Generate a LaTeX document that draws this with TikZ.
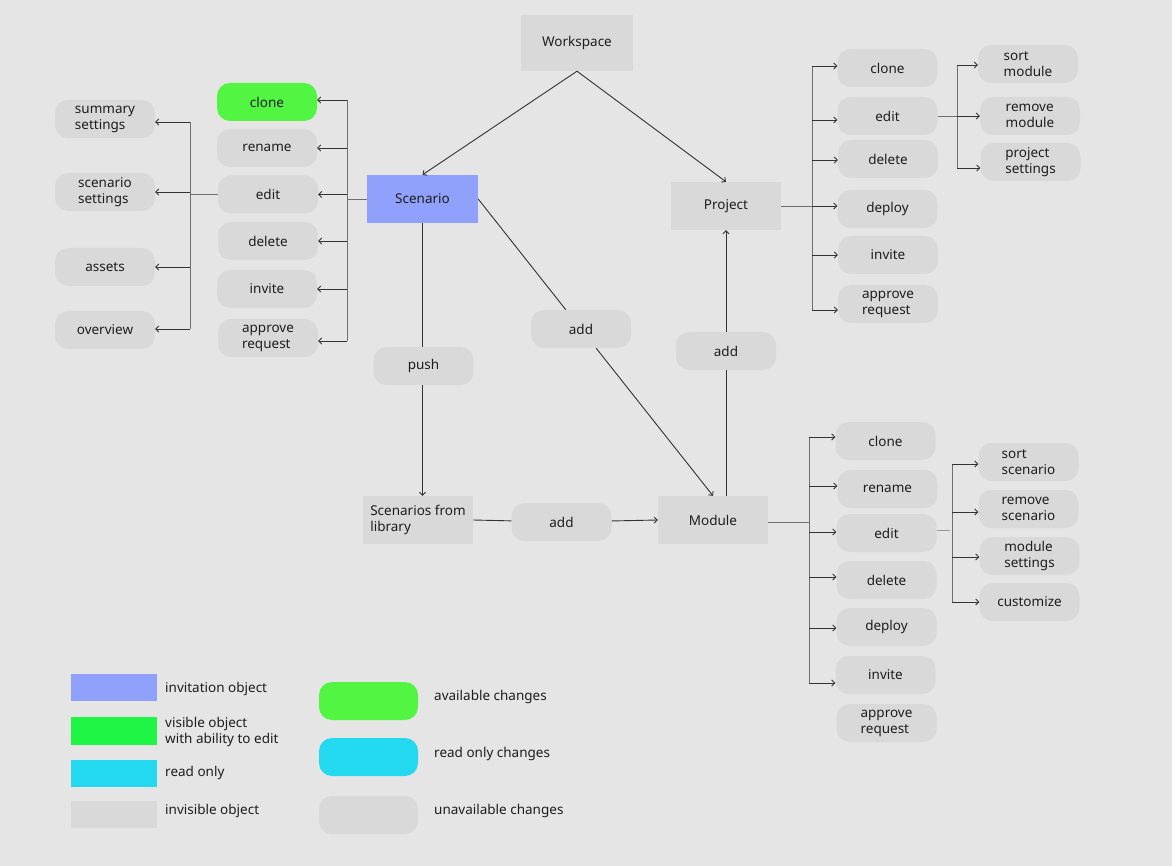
\documentclass[tikz,border=0pt]{standalone}
\usepackage{fontspec}
\setmainfont{Noto Sans}
\usetikzlibrary{arrows.meta}
\definecolor{bg}{HTML}{E5E5E5}
\definecolor{fillgray}{HTML}{D9D9D9}
\definecolor{invblue}{RGB}{143,161,250}
\definecolor{visgreen}{RGB}{30,245,68}
\definecolor{availgreen}{RGB}{82,245,66}
\definecolor{rocyan}{RGB}{34,217,240}
\definecolor{linec}{HTML}{333333}
\definecolor{busc}{HTML}{6E6E6E}
\definecolor{txt}{HTML}{1E1E1E}
\begin{document}
\begin{tikzpicture}[x=1pt,y=-1pt,
  every node/.style={font=\fontsize{13.5}{16}\selectfont, text=txt, inner sep=0pt},
  pill/.style={fill=fillgray, rounded corners=13pt, minimum width=100pt, minimum height=38pt, align=left},
  box/.style={fill=fillgray, minimum width=111pt, minimum height=48pt},
  swatch/.style={minimum width=86pt, minimum height=27pt},
  legtext/.style={anchor=west, align=left},
  conn/.style={draw=linec, line width=0.9pt},
  arr/.style={conn, -{Straight Barb[length=3pt,width=6pt]}},
  bus/.style={draw=busc, line width=0.9pt},
]
\fill[bg] (0,0) rectangle (1172,866);
\useasboundingbox (0,0) rectangle (1172,866);

% main objects
\node[box, minimum width=112pt, minimum height=56pt] (ws) at (577,43) {Workspace};
\node[box, fill=invblue] (scen) at (422.5,199) {Scenario};
\node[box, minimum width=110pt] (proj) at (726,206) {Project};
\node[box, minimum width=110pt, align=left] (lib) at (418,520) {Scenarios from\\library};
\node[box, minimum width=110pt] (mod) at (713,520) {Module};

% relation labels
\node[pill] (push) at (423.5,366) {push};
\node[pill] (addA) at (581,329) {add};
\node[pill] (addB) at (726,351) {add};
\node[pill] (addC) at (561.5,522) {add};

% scenario actions
\node[pill, fill=availgreen] (sclone) at (267,102) {clone};
\node[pill] (sren) at (267,148) {rename};
\node[pill] (sedit) at (268,194.5) {edit};
\node[pill] (sdel) at (268,241) {delete};
\node[pill] (sinv) at (267,289) {invite};
\node[pill] (sapp) at (268,338) {approve\\request};

% scenario edit options
\node[pill] (ssum) at (105,119) {summary\\settings};
\node[pill] (sset) at (105,192) {scenario\\settings};
\node[pill] (sass) at (105,267) {assets};
\node[pill] (sover) at (105,330) {overview};

% project actions
\node[pill] (pclone) at (887.5,68) {clone};
\node[pill] (pedit) at (887.5,116) {edit};
\node[pill] (pdel) at (888,159) {delete};
\node[pill] (pdep) at (887.5,209) {deploy};
\node[pill] (pinv) at (888,255) {invite};
\node[pill] (papp) at (888,304) {approve\\request};

% project edit options
\node[pill] (psort) at (1028,64) {sort\\module};
\node[pill] (prem) at (1030,116) {remove\\module};
\node[pill] (pset) at (1030.5,162) {project\\settings};

% module actions
\node[pill] (mclone) at (885.5,441) {clone};
\node[pill] (mren) at (887.5,489) {rename};
\node[pill] (medit) at (886.5,533) {edit};
\node[pill] (mdel) at (886.5,580) {delete};
\node[pill] (mdep) at (886.5,627) {deploy};
\node[pill] (minv) at (885.5,675) {invite};
\node[pill] (mapp) at (886.5,723) {approve\\request};

% module edit options
\node[pill] (msort) at (1028.5,462) {sort\\scenario};
\node[pill] (mrem) at (1028.5,509) {remove\\scenario};
\node[pill] (mset) at (1029.5,556) {module\\settings};
\node[pill] (mcust) at (1029.5,602) {customize};

% main connectors
\draw[arr] (ws.south) -- (scen.north);
\draw[arr] (ws.south) -- (proj.north);
\draw[conn] (scen.south) -- (push.north -| scen.south);
\draw[arr] (push.south -| scen.south) -- (lib.north -| scen.south);
\draw[conn] (scen.east) -- (addA);
\draw[arr] (addA) -- (mod.north);
\draw[conn] (mod.north -| proj.south) -- (addB);
\draw[arr] (addB) -- (proj.south);
\draw[conn] (lib.east) -- (addC);
\draw[arr] (addC) -- (mod.west);

% scenario action bus
\coordinate (sbus) at (347,0);
\draw[bus] (scen.west) -- (scen.west -| sbus);
\draw[bus] (sbus |- 0,100) -- (sbus |- 0,341);
\draw[arr] (sbus |- 0,100) -- (sclone.east |- 0,100);
\draw[arr] (sbus |- sren.east) -- (sren.east);
\draw[arr] (sbus |- sedit.east) -- (sedit.east);
\draw[arr] (sbus |- sdel.east) -- (sdel.east);
\draw[arr] (sbus |- sinv.east) -- (sinv.east);
\draw[arr] (sbus |- 0,341) -- (sapp.east |- 0,341);

% scenario edit bus
\coordinate (ebus) at (190,0);
\draw[bus] (sedit.west) -- (sedit.west -| ebus);
\draw[bus] (ebus |- 0,122) -- (ebus |- 0,329);
\draw[arr] (ebus |- 0,122) -- (ssum.east |- 0,122);
\draw[arr] (ebus |- sset.east) -- (sset.east);
\draw[arr] (ebus |- sass.east) -- (sass.east);
\draw[arr] (ebus |- 0,329) -- (sover.east |- 0,329);

% project action bus
\coordinate (pbus) at (812,0);
\draw[bus] (proj.east) -- (proj.east -| pbus);
\draw[bus] (pbus |- 0,66) -- (pbus |- 0,310);
\draw[arr] (pbus |- 0,66) -- (pclone.west |- 0,66);
\draw[arr] (pbus |- 0,120) -- (pedit.west |- 0,120);
\draw[arr] (pbus |- 0,160) -- (pdel.west |- 0,160);
\draw[arr] (pbus |- proj.east) -- (pdep.west |- proj.east);
\draw[arr] (pbus |- pinv.west) -- (pinv.west);
\draw[arr] (pbus |- 0,310) -- (papp.west |- 0,310);

% project edit bus
\coordinate (pebus) at (957,0);
\draw[bus] (pedit.east) -- (pedit.east -| pebus);
\draw[bus] (pebus |- 0,65) -- (pebus |- 0,168);
\draw[arr] (pebus |- 0,65) -- (psort.west |- 0,65);
\draw[arr] (pebus |- prem.west) -- (prem.west);
\draw[arr] (pebus |- 0,168) -- (pset.west |- 0,168);

% module action bus
\coordinate (mbus) at (809,0);
\draw[bus] (mod.east |- 0,522) -- (mbus |- 0,522);
\draw[bus] (mbus |- 0,437) -- (mbus |- 0,683);
\draw[arr] (mbus |- 0,437) -- (mclone.west |- 0,437);
\draw[arr] (mbus |- 0,486) -- (mren.west |- 0,486);
\draw[arr] (mbus |- 0,532) -- (medit.west |- 0,532);
\draw[arr] (mbus |- 0,577) -- (mdel.west |- 0,577);
\draw[arr] (mbus |- 0,628) -- (mdep.west |- 0,628);
\draw[arr] (mbus |- 0,683) -- (minv.west |- 0,683);

% module edit bus
\coordinate (mebus) at (952,0);
\draw[bus, draw=busc!70] (medit.east |- 0,530) -- (950,530);
\draw[bus] (mebus |- 0,464) -- (mebus |- 0,602);
\draw[arr] (mebus |- 0,464) -- (msort.west |- 0,464);
\draw[arr] (mebus |- 0,512) -- (mrem.west |- 0,512);
\draw[arr] (mebus |- 0,557) -- (mset.west |- 0,557);
\draw[arr] (mebus |- 0,602) -- (mcust.west |- 0,602);

% legend: objects
\node[swatch, fill=invblue] (lgblue) at (114,687.5) {};
\node[swatch, fill=visgreen, minimum height=28pt] (lggreen) at (114,731) {};
\node[swatch, fill=rocyan] (lgcyan) at (114,773.5) {};
\node[swatch, fill=fillgray] (lggray) at (114,814.5) {};
\node[legtext] (ltblue) at (165,689) {invitation object};
\node[legtext] (ltgreen) at (165,732) {visible object\\with ability to edit};
\node[legtext] (ltcyan) at (165,773) {read only};
\node[legtext] (ltgray) at (165,811) {invisible object};

% legend: changes
\node[pill, fill=availgreen, minimum width=99pt] (lpgreen) at (368.5,701) {};
\node[pill, fill=rocyan, minimum width=99pt] (lpcyan) at (368.5,757) {};
\node[pill, minimum width=99pt] (lpgray) at (368.5,815) {};
\node[legtext] (lqgreen) at (434,697) {available changes};
\node[legtext] (lqcyan) at (434,754) {read only changes};
\node[legtext] (lqgray) at (434,811) {unavailable changes};
\end{tikzpicture}
\end{document}
